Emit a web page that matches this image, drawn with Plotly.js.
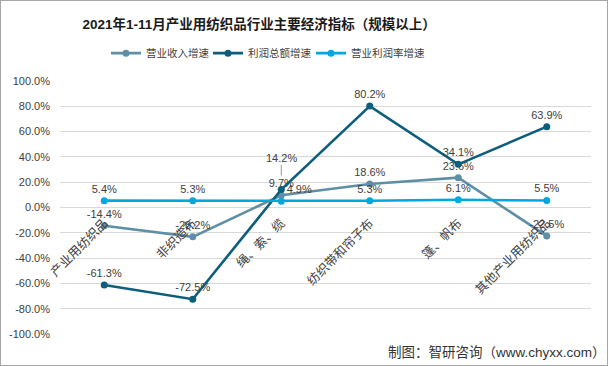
<!DOCTYPE html>
<html><head><meta charset="utf-8">
<script src="https://cdn.plot.ly/plotly-3.0.1.min.js"></script>
<style>body{margin:0;padding:0;background:#fff}#wrap{width:606px;height:364px;border:1px solid #a6a6a6;position:relative;overflow:hidden}#chart{width:606px;height:364px}</style>
</head><body><div id="wrap"><div id="chart"></div></div>
<script>
const categories = ['产业用纺织品','非织造布','绳、索、缆','纺织带和帘子布','篷、帆布','其他产业用纺织品'];
const seriesNames = ['营业收入增速','利润总额增速','营业利润率增速'];
const revenueGrowth = [-14.4, -23.2, 9.7, 18.6, 23.6, -22.5];
const profitGrowth = [-61.3, -72.5, 14.2, 80.2, 34.1, 63.9];
const marginGrowth = [5.4, 5.3, 4.9, 5.3, 6.1, 5.5];
const yTicks = [-100,-80,-60,-40,-20,0,20,40,60,80,100];

const colors = ['#5f8fa6','#0d5e7d','#00a7e1'];
const fmt = v => v.toFixed(1) + '%';
const font = 'Arial, "Liberation Sans", "Noto Sans CJK SC", sans-serif';

function mk(name, vals, color, positions, texts, legend) {
  return {
    type:'scatter', mode:'lines+markers+text', name:name, x:categories, y:vals,
    line:{color:color, width:2.6}, marker:{color:color, size:7},
    text: texts || vals.map(fmt), textposition: positions, legend: legend,
    textfont:{size:11, color:'#404040', family:font}, cliponaxis:false, hoverinfo:'skip'
  };
}
// the 14.2% label sits higher, with a leader line (drawn as an annotation)
const profitTexts = profitGrowth.map((v,i) => i === 2 ? '' : fmt(v));
const traces = [
  mk(seriesNames[0], revenueGrowth, colors[0], 'top center', null, 'legend'),
  mk(seriesNames[1], profitGrowth, colors[1], 'top center', profitTexts, 'legend2'),
  mk(seriesNames[2], marginGrowth, colors[2], ['top center','top center','top right','top center','top center','top center'], null, 'legend3')
];

const legendFont = {size:10.5, color:'#404040', family:font};
const lg = x => ({orientation:'h', x:x, xanchor:'left', y:1.11, yanchor:'middle', font:legendFont, itemwidth:30, bgcolor:'rgba(0,0,0,0)'});
const layout = {
  width:606, height:364,
  margin:{l:59, r:16, t:80, b:31},
  paper_bgcolor:'#fff', plot_bgcolor:'#fff',
  showlegend:true,
  legend:lg(0.0866), legend2:lg(0.2787), legend3:lg(0.4727),
  title:{text:'<b>2021年1-11月产业用纺织品行业主要经济指标（规模以上）</b>', x:0.426, xanchor:'center', y:0.935, yanchor:'middle',
    font:{size:13.5, color:'#1a1a1a', family:font}},
  xaxis:{type:'category', range:[-0.5,5.5], anchor:'free', position:0.5, showline:false, showgrid:false, zeroline:false,
    ticks:'', tickangle:-45, ticklabelstandoff:5, tickfont:{size:12.5, color:'#404040', family:'"Noto Sans CJK SC", sans-serif'}},
  yaxis:{range:[-100,100], tickvals:yTicks, ticktext:yTicks.map(v=>v.toFixed(1)+'%'),
    showgrid:true, gridcolor:'#d9d9d9', gridwidth:1, zeroline:true, zerolinecolor:'#d9d9d9', zerolinewidth:1,
    showline:false, ticks:'', ticklabelstandoff:9, tickfont:{size:11, color:'#404040', family:font}},
  annotations:[
    {xref:'x', yref:'y', x:categories[2], y:profitGrowth[2], text:fmt(profitGrowth[2]), showarrow:true,
     arrowhead:0, arrowwidth:0.8, arrowcolor:'#7f7f7f', ax:0, ay:-32, standoff:14,
     font:{size:11, color:'#404040', family:font}},
    {xref:'paper', yref:'paper', x:1.032, y:-0.075, xanchor:'right', yanchor:'middle', showarrow:false,
    text:'制图：智研咨询（www.chyxx.com）', font:{size:13.5, color:'#333', family:font}}]
};
Plotly.newPlot('chart', traces, layout, {displayModeBar:false, staticPlot:true});
</script></body></html>
